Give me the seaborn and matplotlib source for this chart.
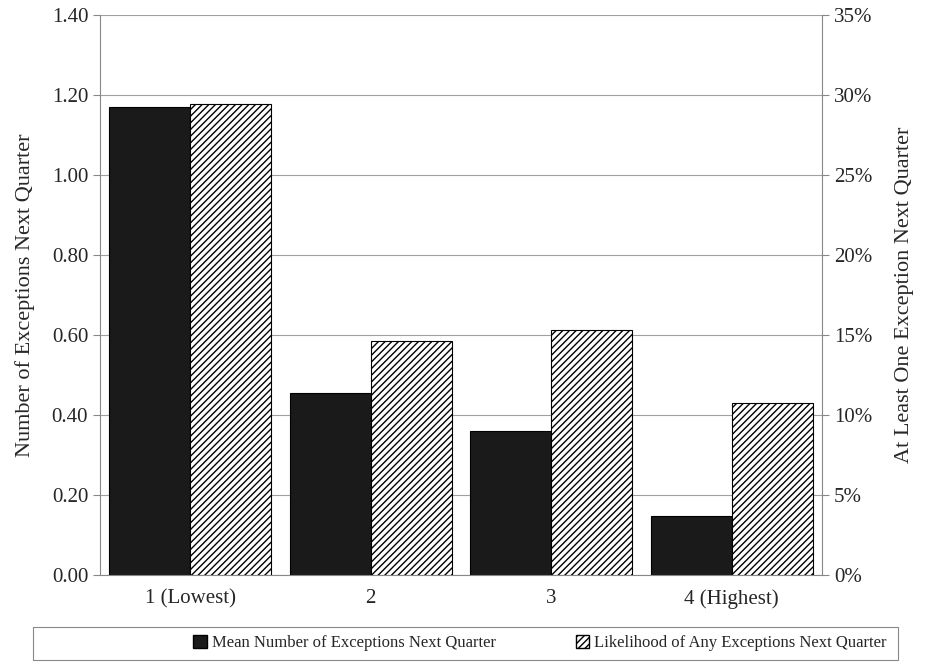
import matplotlib
matplotlib.use("Agg")
import matplotlib.pyplot as plt
import seaborn as sns
import pandas as pd
import numpy as np
from matplotlib.ticker import FuncFormatter
from matplotlib.patches import Patch, Rectangle

categories = ["1 (Lowest)", "2", "3", "4 (Highest)"]
mean_exc = [1.17, 0.455, 0.36, 0.148]
likelihood = [29.45, 14.6, 15.3, 10.75]
s1 = "Mean Number of Exceptions Next Quarter"
s2 = "Likelihood of Any Exceptions Next Quarter"

sns.set_style("white")
plt.rcParams['font.family'] = ['Liberation Serif', 'DejaVu Serif']
plt.rcParams['hatch.linewidth'] = 1.0

df_left = pd.DataFrame({"cat": categories * 2, "series": [s1]*4 + [s2]*4,
                        "val": mean_exc + [np.nan]*4})
df_right = pd.DataFrame({"cat": categories * 2, "series": [s1]*4 + [s2]*4,
                         "val": [np.nan]*4 + likelihood})

fig = plt.figure(figsize=(9.27, 6.63), dpi=100)
ax = fig.add_axes([100/927, 88/663, 722/927, 560/663])
ax2 = ax.twinx()
sns.barplot(data=df_left, x="cat", y="val", hue="series", hue_order=[s1, s2],
            order=categories, ax=ax, palette=["#1a1a1a", "white"], width=0.9,
            edgecolor="black", linewidth=0.8, legend=False)
sns.barplot(data=df_right, x="cat", y="val", hue="series", hue_order=[s1, s2],
            order=categories, ax=ax2, palette=["#1a1a1a", "white"], width=0.9,
            edgecolor="black", linewidth=0.8, legend=False)
for p in ax2.patches:
    p.set_hatch("/////")
ax.set_ylim(0, 1.4)
ax2.set_ylim(0, 35)
ax.set_xlim(-0.5, 3.5)
ax.set_yticks(np.arange(0, 1.41, 0.2))
ax.yaxis.set_major_formatter(FuncFormatter(lambda v, p: f"{v:.2f}"))
ax2.set_yticks(np.arange(0, 36, 5))
ax2.yaxis.set_major_formatter(FuncFormatter(lambda v, p: f"{v:.0f}%"))
ax.grid(axis="y", color="#a0a0a0", linewidth=0.8)
ax.set_axisbelow(True)
ax.set_xlabel("")
ax.set_ylabel("Number of Exceptions Next Quarter", fontsize=16, labelpad=12)
ax2.set_ylabel("At Least One Exception Next Quarter", fontsize=16, labelpad=16)
ax.tick_params(axis="both", labelsize=15, length=5, direction="out", color="#888888")
ax2.tick_params(axis="y", labelsize=15, length=5, direction="out", color="#888888")
ax.set_xticks([-0.5, 0.5, 1.5, 2.5, 3.5], minor=True)
ax.tick_params(axis="x", which="major", length=0, pad=10)
ax.tick_params(axis="x", which="minor", length=6, color="#888888")
for a in (ax, ax2):
    a.spines["top"].set_visible(False)
    for s in ("left", "right", "bottom"):
        a.spines[s].set_color("#888888")
ax.spines["right"].set_visible(False)
ax2.spines["left"].set_visible(False)
ax2.spines["bottom"].set_visible(False)
handles = [Patch(facecolor="#1a1a1a", edgecolor="black"),
           Patch(facecolor="white", edgecolor="black", hatch="/////")]
leg = fig.legend(handles, [s1, s2], loc="center", bbox_to_anchor=(540/927, 1-643/663),
                 ncol=2, frameon=False, fontsize=12, handlelength=0.8,
                 handleheight=0.8, handletextpad=0.3, columnspacing=4.8,
                 borderpad=0.5, borderaxespad=0)
fig.patches.append(Rectangle((33/927, 1-660/663), 865/927, 33/663, transform=fig.transFigure,
                             fill=False, edgecolor="#888888", linewidth=0.8))
fig.savefig("out.png", dpi=100)
